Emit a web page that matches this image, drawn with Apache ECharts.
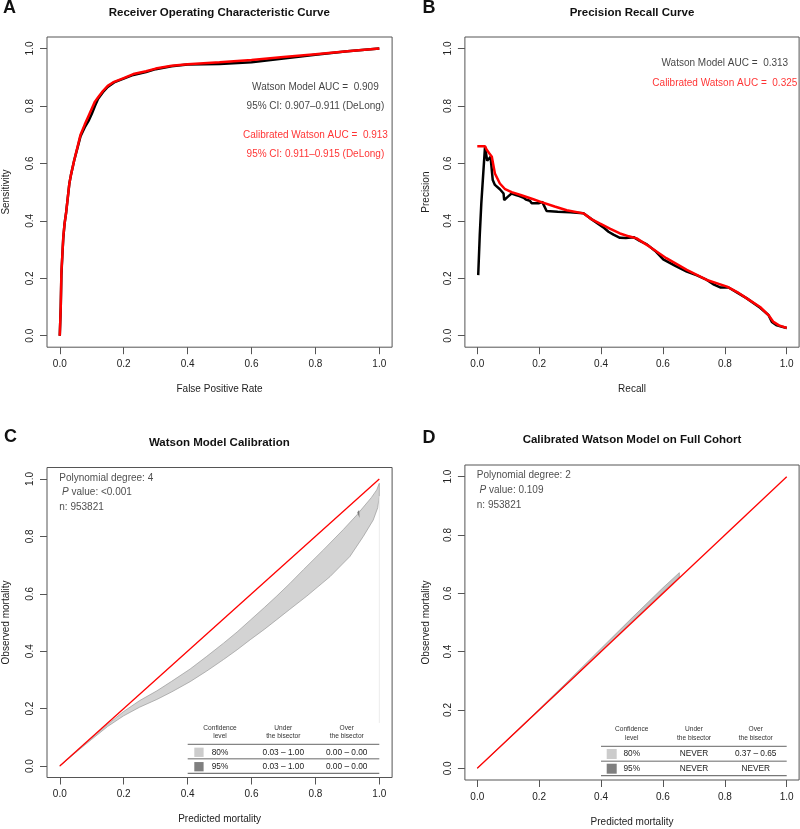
<!DOCTYPE html>
<html><head><meta charset="utf-8">
<script src="https://cdn.jsdelivr.net/npm/echarts@6/dist/echarts.min.js"></script>
<style>html,body{margin:0;padding:0;background:#fff}#c{width:800px;height:829px}</style>
</head><body><div id="c"></div>
<script>
// ---------- data ----------
const tickValues = [0, 0.2, 0.4, 0.6, 0.8, 1.0];

const rocFprWatson = [0, 0.003, 0.005, 0.008, 0.011, 0.015, 0.02, 0.025, 0.03, 0.035, 0.045, 0.055, 0.065, 0.078, 0.09, 0.1, 0.11, 0.12, 0.135, 0.15, 0.17, 0.2, 0.23, 0.27, 0.3, 0.35, 0.4, 0.5, 0.6, 0.7, 0.8, 0.9, 1.0];
const rocTprWatson = [0, 0.1, 0.21, 0.28, 0.34, 0.39, 0.43, 0.48, 0.53, 0.56, 0.61, 0.652, 0.695, 0.725, 0.748, 0.772, 0.8, 0.825, 0.848, 0.866, 0.882, 0.895, 0.908, 0.918, 0.928, 0.938, 0.944, 0.946, 0.952, 0.965, 0.978, 0.99, 1.0];
const rocFprCal = [0, 0.003, 0.005, 0.008, 0.011, 0.015, 0.02, 0.025, 0.03, 0.035, 0.045, 0.055, 0.065, 0.078, 0.09, 0.1, 0.11, 0.12, 0.135, 0.15, 0.17, 0.2, 0.23, 0.27, 0.3, 0.35, 0.4, 0.5, 0.6, 0.7, 0.8, 0.9, 1.0];
const rocTprCal = [0, 0.1, 0.22, 0.28, 0.345, 0.39, 0.43, 0.48, 0.53, 0.56, 0.61, 0.655, 0.7, 0.735, 0.765, 0.79, 0.815, 0.83, 0.852, 0.87, 0.884, 0.897, 0.911, 0.921, 0.93, 0.94, 0.945, 0.952, 0.96, 0.97, 0.98, 0.99, 1.0];

const prRecallWatson = [0.003, 0.008, 0.013, 0.019, 0.025, 0.032, 0.043, 0.05, 0.057, 0.073, 0.085, 0.087, 0.1, 0.111, 0.125, 0.136, 0.15, 0.157, 0.17, 0.176, 0.198, 0.21, 0.224, 0.26, 0.3, 0.343, 0.37, 0.397, 0.41, 0.424, 0.44, 0.461, 0.48, 0.505, 0.525, 0.548, 0.575, 0.601, 0.64, 0.677, 0.71, 0.742, 0.765, 0.785, 0.812, 0.84, 0.871, 0.914, 0.941, 0.952, 0.968, 0.985, 1.0];
const prPrecisionWatson = [0.211, 0.35, 0.46, 0.56, 0.658, 0.609, 0.623, 0.542, 0.525, 0.51, 0.495, 0.472, 0.485, 0.495, 0.49, 0.486, 0.48, 0.474, 0.47, 0.461, 0.461, 0.466, 0.434, 0.432, 0.43, 0.426, 0.405, 0.385, 0.375, 0.362, 0.352, 0.341, 0.34, 0.343, 0.33, 0.318, 0.295, 0.266, 0.243, 0.223, 0.21, 0.194, 0.178, 0.168, 0.168, 0.15, 0.13, 0.097, 0.072, 0.048, 0.036, 0.031, 0.027];
const prRecallCal = [0.0, 0.025, 0.03, 0.038, 0.047, 0.057, 0.073, 0.09, 0.111, 0.14, 0.181, 0.205, 0.25, 0.289, 0.343, 0.37, 0.397, 0.43, 0.461, 0.49, 0.515, 0.557, 0.611, 0.677, 0.742, 0.807, 0.84, 0.871, 0.914, 0.941, 0.957, 0.975, 1.0];
const prPrecisionCal = [0.66, 0.66, 0.648, 0.636, 0.623, 0.565, 0.53, 0.51, 0.5, 0.49, 0.475, 0.466, 0.45, 0.437, 0.426, 0.405, 0.39, 0.372, 0.356, 0.346, 0.339, 0.31, 0.27, 0.229, 0.194, 0.171, 0.152, 0.13, 0.1, 0.072, 0.048, 0.036, 0.027];

const rocAucText = ['Watson Model AUC =  0.909', '95% CI: 0.907\u20130.911 (DeLong)', 'Calibrated Watson AUC =  0.913', '95% CI: 0.911\u20130.915 (DeLong)'];
const prAucText = ['Watson Model AUC =  0.313', 'Calibrated Watson AUC =  0.325'];

// calibration belt, panel C (Watson model): upper and lower 80% edges
const calUpperPredC = [0, 0.05, 0.1, 0.15, 0.2, 0.25, 0.304, 0.35, 0.408, 0.46, 0.5125, 0.555, 0.596, 0.64, 0.679, 0.72, 0.7625, 0.825, 0.8875, 0.93, 0.95, 0.975, 0.992, 1.0];
const calUpperObsC = [0, 0.049, 0.098, 0.145, 0.19, 0.228, 0.262, 0.295, 0.338, 0.382, 0.428, 0.467, 0.508, 0.552, 0.592, 0.636, 0.684, 0.753, 0.824, 0.875, 0.902, 0.935, 0.962, 0.985];
const calLowerPredC = [0, 0.05, 0.1, 0.15, 0.2, 0.25, 0.304, 0.35, 0.408, 0.46, 0.5125, 0.555, 0.596, 0.64, 0.679, 0.72, 0.773, 0.846, 0.908, 0.95, 0.981, 0.995, 1.0];
const calLowerObsC = [0, 0.047, 0.093, 0.138, 0.175, 0.205, 0.232, 0.258, 0.294, 0.331, 0.371, 0.405, 0.44, 0.476, 0.51, 0.546, 0.592, 0.66, 0.73, 0.8, 0.857, 0.9, 0.94];
const calPred95C = [0.931, 0.937, 0.938];
const calObs95C = [0.884, 0.892, 0.864];
const calEdgePredC = [1.0, 1.0];
const calEdgeObsC = [0.15, 0.94];
// calibration belt, panel D (calibrated model)
const calPredD = [0.0, 0.1, 0.2, 0.3, 0.4, 0.5, 0.6, 0.653];
const calUpperObsD = [0.0, 0.101, 0.203, 0.306, 0.411, 0.516, 0.619, 0.671];
const calLowerObsD = [0.0, 0.099, 0.199, 0.299, 0.401, 0.503, 0.604, 0.655];
const bisector = [0, 1];

const calDegree = [4, 2];
const calPValue = ['<0.001', '0.109'];
const calN = [953821, 953821];

const legendHeaders = ['Confidence\nlevel', 'Under\nthe bisector', 'Over\nthe bisector'];
const legendLevels = ['80%', '95%'];
const underC = ['0.03 \u2013 1.00', '0.03 \u2013 1.00'];
const overC = ['0.00 \u2013 0.00', '0.00 \u2013 0.00'];
const underD = ['NEVER', 'NEVER'];
const overD = ['0.37 \u2013 0.65', 'NEVER'];

const panelTitles = ['Receiver Operating Characteristic Curve', 'Precision Recall Curve', 'Watson Model Calibration', 'Calibrated Watson Model on Full Cohort'];
const panelLetters = ['A', 'B', 'C', 'D'];
const xNames = ['False Positive Rate', 'Recall', 'Predicted mortality', 'Predicted mortality'];
const yNames = ['Sensitivity', 'Precision', 'Observed mortality', 'Observed mortality'];

// ---------- build ----------
const F = '"Liberation Sans", Arial, Helvetica, sans-serif';
const zip = (a, b) => a.map((v, i) => [v, b[i]]);

const grids = [
  {left: 46.5, top: 37, width: 345.6, height: 310.2},
  {left: 464.9, top: 37, width: 334.2, height: 310.2},
  {left: 46.5, top: 467.5, width: 345.6, height: 310},
  {left: 464.9, top: 465, width: 334.2, height: 315}
].map(g => Object.assign({show: true, borderColor: '#555', borderWidth: 1, backgroundColor: 'transparent', containLabel: false}, g));

const yGaps = [36, 34, 36, 34];
const xAxes = grids.map((g, i) => ({
  type: 'value', gridIndex: i, min: -0.04, max: 1.04, position: 'bottom',
  name: xNames[i], nameLocation: 'middle', nameGap: 37,
  nameTextStyle: {fontSize: 10, fontFamily: F, color: '#222'},
  axisLine: {show: false, onZero: false}, splitLine: {show: false},
  axisTick: {show: true, inside: false, length: 7, customValues: tickValues, lineStyle: {color: '#555', width: 1}},
  axisLabel: {show: true, margin: 12, fontSize: 10, fontFamily: F, color: '#222', customValues: tickValues, formatter: v => Number(v).toFixed(1)}
}));
const yAxes = grids.map((g, i) => ({
  type: 'value', gridIndex: i, min: -0.04, max: 1.04, position: 'left',
  name: yNames[i], nameLocation: 'middle', nameGap: yGaps[i],
  nameTextStyle: {fontSize: 10, fontFamily: F, color: '#222'},
  axisLine: {show: false, onZero: false}, splitLine: {show: false},
  axisTick: {show: true, inside: false, length: 7, customValues: tickValues, lineStyle: {color: '#555', width: 1}},
  axisLabel: {show: true, margin: 12, rotate: 90, fontSize: 10, fontFamily: F, color: '#222', customValues: tickValues, formatter: v => Number(v).toFixed(1)}
}));

function lineSeries(idx, xs, ys, color, width, z) {
  return {type: 'line', xAxisIndex: idx, yAxisIndex: idx, data: zip(xs, ys), showSymbol: false, symbol: 'none',
    lineStyle: {color: color, width: width}, z: z, silent: true, animation: false};
}
function bandSeries(idx, ux, uy, lx, ly, fill, stroke, z) {
  return {type: 'custom', xAxisIndex: idx, yAxisIndex: idx, data: [[0, 0]], z: z, silent: true, animation: false,
    renderItem: function (params, api) {
      const pts = [];
      for (let i = 0; i < ux.length; i++) pts.push(api.coord([ux[i], uy[i]]));
      for (let i = lx.length - 1; i >= 0; i--) pts.push(api.coord([lx[i], ly[i]]));
      return {type: 'polygon', shape: {points: pts}, style: {fill: fill, stroke: stroke, lineWidth: 0.7}};
    }};
}
function polySeries(idx, xs, ys, fill, z) {
  return {type: 'custom', xAxisIndex: idx, yAxisIndex: idx, data: [[0, 0]], z: z, silent: true, animation: false,
    renderItem: function (params, api) {
      const pts = xs.map((x, i) => api.coord([x, ys[i]]));
      return {type: 'polygon', shape: {points: pts}, style: {fill: fill}};
    }};
}
function textSeries(idx, items) {
  return {type: 'scatter', xAxisIndex: idx, yAxisIndex: idx, symbolSize: 1, silent: true, animation: false, z: 10,
    itemStyle: {color: 'rgba(0,0,0,0)'},
    data: items.map(it => ({value: [it.x, it.y], label: it.label})),
    label: {show: true, position: 'inside', fontSize: 10, fontFamily: F, align: 'center', verticalAlign: 'middle'}};
}
function infoSeries(idx, k) {
  const t = {fontSize: 10, fontFamily: F, color: '#222', lineHeight: 14.8};
  return {type: 'scatter', xAxisIndex: idx, yAxisIndex: idx, symbolSize: 1, silent: true, animation: false, z: 10,
    itemStyle: {color: 'rgba(0,0,0,0)'},
    data: [{value: [0, 1.0]}],
    label: {show: true, position: [0, 0], align: 'left', verticalAlign: 'top', offset: [0, -8],
      formatter: '{t|Polynomial degree: ' + calDegree[k] + '}\n{t| }{i|P}{t| value: ' + calPValue[k] + '}\n{t|n: ' + calN[k] + '}',
      rich: {t: t, i: Object.assign({}, t, {fontStyle: 'italic'})}}};
}

const series = [
  lineSeries(0, rocFprWatson, rocTprWatson, '#000', 2.5, 2),
  lineSeries(0, rocFprCal, rocTprCal, '#ff0000', 2.5, 3),
  textSeries(0, rocAucText.map((s, i) => ({x: 0.8, y: [0.866, 0.799, 0.698, 0.632][i], label: {formatter: s, color: i < 2 ? '#111' : '#ff0000'}}))),
  lineSeries(1, prRecallWatson, prPrecisionWatson, '#000', 2.5, 2),
  lineSeries(1, prRecallCal, prPrecisionCal, '#ff0000', 2.5, 3),
  textSeries(1, prAucText.map((s, i) => ({x: 0.8, y: [0.95, 0.88][i], label: {formatter: s, color: i < 1 ? '#111' : '#ff0000'}}))),
  bandSeries(2, calUpperPredC, calUpperObsC, calLowerPredC, calLowerObsC, '#d3d3d3', '#9a9a9a', 1),
  polySeries(2, calPred95C, calObs95C, '#7a7a7a', 2),
  lineSeries(2, calEdgePredC, calEdgeObsC, '#ececec', 1, 1),
  lineSeries(2, bisector, bisector, '#ff0000', 1.3, 3),
  infoSeries(2, 0),
  bandSeries(3, calPredD, calUpperObsD, calPredD, calLowerObsD, '#c4c4c4', '#9a9a9a', 1),
  lineSeries(3, bisector, bisector, '#ff0000', 1.3, 3),
  infoSeries(3, 1)
];

// ---------- graphic texts (titles, letters, belt tables) ----------
const graphic = [];
function gText(x, y, text, size, weight, color, align) {
  graphic.push({type: 'text', x: x, y: y, silent: true, style: {text: text, fontSize: size, fontWeight: weight, fontFamily: F,
    fill: color, align: align || 'center', verticalAlign: 'middle', textAlign: align || 'center', textVerticalAlign: 'middle'}});
}
const titlePos = [[219.3, 13.3], [632, 12.7], [219.3, 443.3], [632, 440]];
const letterPos = [[3, 8.3], [422.5, 8.3], [4, 437.5], [422.5, 438]];
panelTitles.forEach((t, i) => gText(titlePos[i][0], titlePos[i][1], t, 11.5, 'bold', '#111'));
panelLetters.forEach((t, i) => gText(letterPos[i][0], letterPos[i][1], t, 18, 'bold', '#111', 'left'));

function gLine(x1, y1, x2, y2, color, w) {
  graphic.push({type: 'line', silent: true, shape: {x1: x1, y1: y1, x2: x2, y2: y2}, style: {stroke: color, lineWidth: w}});
}
function gRect(x, y, w, h, color) {
  graphic.push({type: 'rect', silent: true, shape: {x: x, y: y, width: w, height: h}, style: {fill: color}});
}
function beltTable(L, under, over) {
  legendHeaders.forEach((h, c) => {
    h.split('\n').forEach((ln, r) => gText(L.cols[c], L.head[r], ln, 6.6, 'normal', '#333'));
  });
  gLine(L.x0, L.lines[0], L.x1, L.lines[0], '#666', 1);
  gLine(L.x0, L.lines[1], L.x1, L.lines[1], '#9a9a9a', 1.6);
  gLine(L.x0, L.lines[2], L.x1, L.lines[2], '#777', 1.2);
  const boxCol = ['#cccccc', '#7f7f7f'];
  legendLevels.forEach((lv, r) => {
    gRect(L.boxX, L.rows[r] - L.boxW / 2, L.boxW, L.boxW, boxCol[r]);
    gText(L.cols[0], L.rows[r], lv, 8.3, 'normal', '#222');
    gText(L.cols[1], L.rows[r], under[r], 8.3, 'normal', '#222');
    gText(L.cols[2], L.rows[r], over[r], 8.3, 'normal', '#222');
  });
}
beltTable({x0: 187.7, x1: 379.3, cols: [220, 283.3, 346.7], head: [727.7, 736], lines: [744.3, 758.7, 773.3], rows: [752.3, 766.7], boxX: 194.3, boxW: 9.3}, underC, overC);
beltTable({x0: 601, x1: 786.7, cols: [631.7, 694, 755.7], head: [729.3, 737.7], lines: [746.3, 761.3, 775.7], rows: [754, 768.7], boxX: 606.7, boxW: 10}, underD, overD);

const chart = echarts.init(document.getElementById('c'), null, {renderer: 'canvas'});
chart.setOption({
  backgroundColor: '#ffffff',
  animation: false,
  grid: grids,
  xAxis: xAxes,
  yAxis: yAxes,
  series: series,
  graphic: graphic
});
</script>
</body></html>
